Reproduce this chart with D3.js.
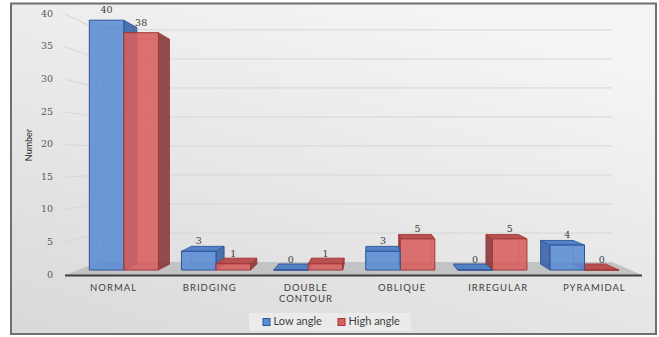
<!DOCTYPE html>
<html>
<head>
<meta charset="utf-8">
<script src="https://cdn.jsdelivr.net/npm/d3@7/dist/d3.min.js"></script>
<style>
  html, body { margin: 0; padding: 0; background: #ffffff; }
  svg { display: block; }
</style>
</head>
<body>
<script>
// ---- data ----
const categories = [["NORMAL"], ["BRIDGING"], ["DOUBLE", "CONTOUR"], ["OBLIQUE"], ["IRREGULAR"], ["PYRAMIDAL"]];
const lowAngle  = [40, 3, 0, 3, 0, 4];
const highAngle = [38, 1, 1, 5, 5, 0];
const seriesNames = ["Low angle", "High angle"];
const yTicks = [0, 5, 10, 15, 20, 25, 30, 35, 40];
const yTitle = "Number";

// ---- layout / style ----
const W = 659, H = 337;
const VPX = 370, VPY = 157;          // vanishing point
const T_BAR0 = 0.042, T_BAR1 = 0.092, T_WALL = 0.11;
const colors = [
  { front: "#5b8cd4", side: "#3e67a8", top: "#4c7cc4", stroke: "#2f5597" },
  { front: "#d75f5e", side: "#8a3e3e", top: "#b84a4a", stroke: "#a23636" }
];

const svg = d3.select("body").append("svg").attr("width", W).attr("height", H);
const defs = svg.append("defs");
const bg = defs.append("linearGradient").attr("id", "bg")
  .attr("x1", 0).attr("y1", 1).attr("x2", 0.6).attr("y2", 0);
bg.append("stop").attr("offset", "0%").attr("stop-color", "#d9d9d9");
bg.append("stop").attr("offset", "100%").attr("stop-color", "#f4f4f4");

// frame
svg.append("rect").attr("x", 11).attr("y", 3.5).attr("width", 645).attr("height", 330.5)
  .attr("fill", "url(#bg)").attr("stroke", "#6f6f6f").attr("stroke-width", 2);

// scales
const x = d3.scaleBand().domain(d3.range(categories.length)).range([65, 642])
  .paddingInner(0.25).paddingOuter(0.125);
const xSub = d3.scaleBand().domain([0, 1]).range([0, x.bandwidth()]);
const y = d3.scaleLinear().domain([0, 40]).range([275, 14.2]);

const proj = (xf, yf, t) => [xf + (VPX - xf) * t, yf + (VPY - yf) * t];
const poly = pts => pts.map(p => p.join(",")).join(" ");

const [xL, xR] = x.range();

// gridlines: left wall + back wall
const g = svg.append("g");
yTicks.filter(v => v > 0).forEach(v => {
  const a = proj(xL, y(v), 0), b = proj(xL, y(v), T_WALL), c = proj(xR, y(v), T_WALL);
  g.append("polyline").attr("points", poly([a, b, c]))
    .attr("fill", "none").attr("stroke", "#d6d6d6").attr("stroke-width", 1);
});

// floor
const floorPts = [proj(xL, y(0), 0), proj(xR, y(0), 0), proj(xR, y(0), T_WALL), proj(xL, y(0), T_WALL)];
g.append("polygon").attr("points", poly(floorPts)).attr("fill", "#c3c3c3");
g.append("line").attr("x1", xL).attr("x2", xR).attr("y1", y(0) + 0.5).attr("y2", y(0) + 0.5)
  .attr("stroke", "#3f3f3f").attr("stroke-width", 2);

// y tick labels
svg.append("g").selectAll("text").data(yTicks).join("text")
  .attr("x", 53).attr("y", d => y(d)).attr("text-anchor", "end")
  .attr("dominant-baseline", "middle")
  .attr("font-family", "DejaVu Serif").attr("font-size", 9.5).attr("fill", "#595959")
  .text(d => d);

// y title
svg.append("text").attr("transform", "translate(30,145) rotate(-90)")
  .attr("text-anchor", "middle").attr("dominant-baseline", "middle")
  .attr("font-family", "Lato").attr("font-size", 9).attr("fill", "#262626").text(yTitle);

// bars
const series = [lowAngle, highAngle];
const barsG = svg.append("g");
const bars = [];
categories.forEach((c, i) => {
  series.forEach((s, k) => {
    const x0 = x(i) + xSub(k), x1 = x0 + xSub.bandwidth();
    bars.push({ i, k, v: s[i], x0, x1 });
  });
});
// draw order: bars farther from the vanishing point first so nearer-center faces overlap correctly
bars.sort((a, b) => Math.abs((b.x0 + b.x1) / 2 - VPX) - Math.abs((a.x0 + a.x1) / 2 - VPX));

bars.forEach(b => {
  const col = colors[b.k];
  const yT = y(b.v), yB = y(0);
  const FTL = proj(b.x0, yT, T_BAR0), FTR = proj(b.x1, yT, T_BAR0),
        FBL = proj(b.x0, yB, T_BAR0), FBR = proj(b.x1, yB, T_BAR0),
        BTL = proj(b.x0, yT, T_BAR1), BTR = proj(b.x1, yT, T_BAR1),
        BBL = proj(b.x0, yB, T_BAR1), BBR = proj(b.x1, yB, T_BAR1);
  const bg2 = barsG.append("g");
  // back edges (seen through the translucent faces)
  bg2.append("polyline").attr("points", poly([BBL, BTL, BTR, BBR, BBL]))
    .attr("fill", "none").attr("stroke", col.stroke).attr("stroke-opacity", 0.5).attr("stroke-width", 0.8);
  if (b.x1 < VPX) {
    bg2.append("polygon").attr("points", poly([FTR, BTR, BBR, FBR]))
      .attr("fill", col.side).attr("fill-opacity", 0.92).attr("stroke", col.stroke).attr("stroke-width", 0.8);
  }
  if (b.x0 > VPX) {
    bg2.append("polygon").attr("points", poly([FTL, BTL, BBL, FBL]))
      .attr("fill", col.side).attr("fill-opacity", 0.92).attr("stroke", col.stroke).attr("stroke-width", 0.8);
  }
  if (yT > VPY) {
    bg2.append("polygon").attr("points", poly([FTL, FTR, BTR, BTL]))
      .attr("fill", col.top).attr("fill-opacity", 0.95).attr("stroke", col.stroke).attr("stroke-width", 0.8);
  }
  bg2.append("polygon").attr("points", poly([FTL, FTR, FBR, FBL]))
    .attr("fill", col.front).attr("fill-opacity", 0.88).attr("stroke", col.stroke).attr("stroke-width", 1);
});

// data labels
const lab = svg.append("g");
bars.forEach(b => {
  const p = proj((b.x0 + b.x1) / 2, y(b.v), T_BAR0);
  lab.append("text").attr("x", p[0]).attr("y", p[1] - 9.5)
    .attr("text-anchor", "middle").attr("dominant-baseline", "middle")
    .attr("font-family", "DejaVu Serif").attr("font-size", 9.5).attr("fill", "#404040")
    .text(b.v);
});

// category labels
const cl = svg.append("g");
categories.forEach((c, i) => {
  const t = cl.append("text").attr("text-anchor", "middle")
    .attr("font-family", "Lato").attr("font-size", 9.5).attr("letter-spacing", 1)
    .attr("fill", "#404040");
  c.forEach((line, j) => {
    t.append("tspan").attr("x", x(i) + x.bandwidth() / 2 + 0.5)
      .attr("y", y(0) + 15.5 + j * 11.5).text(line);
  });
});

// legend
const lg = svg.append("g");
lg.append("rect").attr("x", 249).attr("y", 313).attr("width", 162).attr("height", 18).attr("fill", "#ebebeb");
const legX = [263, 338];
seriesNames.forEach((n, k) => {
  lg.append("rect").attr("x", legX[k]).attr("y", 318.5).attr("width", 7).attr("height", 7)
    .attr("fill", colors[k].front).attr("stroke", colors[k].stroke).attr("stroke-width", 1);
  lg.append("text").attr("x", legX[k] + 10.5).attr("y", 322.5).attr("dominant-baseline", "middle")
    .attr("font-family", "Lato").attr("font-size", 11).attr("fill", "#404040").text(n);
});
</script>
</body>
</html>
